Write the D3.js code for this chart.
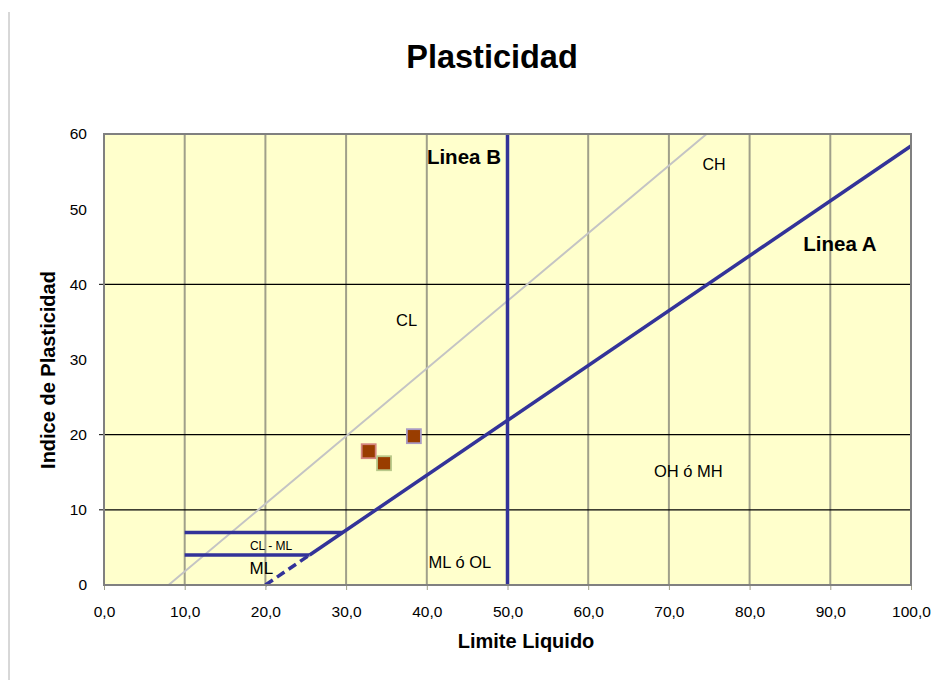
<!DOCTYPE html>
<html><head><meta charset="utf-8">
<script src="https://cdn.jsdelivr.net/npm/d3@7"></script>
<style>body{margin:0;background:#fff;} svg{display:block;font-family:"Liberation Sans",Arial,sans-serif;}</style>
</head><body>
<svg id="c" width="945" height="680"></svg>
<script>
const xTicks = [0,10,20,30,40,50,60,70,80,90,100];
const yTicks = [0,10,20,30,40,50,60];
const yGrid = [10,20,40];
const lineA_dashed = [[20,0],[25.48,4]];
const lineA_solid = [[25.48,4],[100,58.4]];
const lineU = [[8,0],[74.67,60]];
const lineB = [[50,0],[50,60]];
const clml7 = [[10,7],[29.59,7]];
const clml4 = [[10,4],[25.48,4]];
const pointsLL = [32.8, 34.7, 38.4];
const pointsPI = [17.8, 16.2, 19.8];
const pointStroke = ["#d4857f","#b9c98a","#a99ac4"];
const labels = [
  {t:"Linea B", x:44.6, y:56.0, bold:true, size:20.5},
  {t:"CH", x:75.6, y:55.2, bold:false, size:16},
  {t:"Linea A", x:91.2, y:44.5, bold:true, size:20.5},
  {t:"CL", x:37.5, y:34.4, bold:false, size:16.5},
  {t:"OH ó MH", x:72.4, y:14.4, bold:false, size:16.5},
  {t:"ML ó OL", x:44.1, y:2.3, bold:false, size:16.5},
  {t:"CL - ML", x:20.7, y:4.6, bold:false, size:12},
  {t:"ML", x:19.5, y:1.4, bold:false, size:17}
];

const svg = d3.select("#c");
const L=104, R=911, T=134, B=585;
const x = d3.scaleLinear().domain([0,100]).range([L,R]);
const y = d3.scaleLinear().domain([0,60]).range([B,T]);

// outer left border line
svg.append("line").attr("x1",9).attr("x2",9).attr("y1",12).attr("y2",680).attr("stroke","#b0b0b0").attr("stroke-width",1);

svg.append("text").attr("x",492).attr("y",68).attr("text-anchor","middle").attr("font-size",32.5).attr("font-weight","bold").text("Plasticidad");

svg.append("rect").attr("x",L).attr("y",T).attr("width",R-L).attr("height",B-T).attr("fill","#ffffcc");

// vertical grid
svg.append("g").selectAll("line").data(xTicks.slice(1,-1)).join("line")
  .attr("x1",d=>x(d)).attr("x2",d=>x(d)).attr("y1",T).attr("y2",B)
  .attr("stroke","#a0a08a").attr("stroke-width",2);
// horizontal grid
svg.append("g").selectAll("line").data(yGrid).join("line")
  .attr("x1",L).attr("x2",R).attr("y1",d=>y(d)).attr("y2",d=>y(d))
  .attr("stroke","#000").attr("stroke-width",1.2);

// axes
const xAxis = d3.axisBottom(x).tickValues(xTicks).tickSize(5).tickFormat(d=>d3.format(".1f")(d).replace(".",","));
const gx = svg.append("g").attr("transform",`translate(0,${B})`).call(xAxis);
gx.select(".domain").remove();
gx.selectAll("line").attr("stroke","#a0a08a").attr("stroke-width",1);
gx.selectAll("text").attr("font-size",15.5).attr("fill","#000").attr("dy","1.55em").attr("font-family","Liberation Sans, Arial, sans-serif");

const yAxis = d3.axisLeft(y).tickValues(yTicks).tickSize(0).tickPadding(17);
const gy = svg.append("g").attr("transform",`translate(${L},0)`).call(yAxis);
gy.select(".domain").remove();
gy.selectAll("text").attr("font-size",15.5).attr("fill","#000").attr("font-family","Liberation Sans, Arial, sans-serif");
svg.append("g").selectAll("line").data(yGrid).join("line")
  .attr("x1",L-5).attr("x2",L).attr("y1",d=>y(d)).attr("y2",d=>y(d)).attr("stroke","#000");

const line = d3.line().x(d=>x(d[0])).y(d=>y(d[1]));
svg.append("path").attr("d",line(lineU)).attr("stroke","#c4c4c4").attr("stroke-width",2).attr("fill","none");
const blue="#333399";
svg.append("path").attr("d",line(lineA_dashed)).attr("stroke",blue).attr("stroke-width",3.5).attr("stroke-dasharray","9,5").attr("fill","none");
[lineA_solid,lineB,clml7,clml4].forEach(l=>{
  svg.append("path").attr("d",line(l)).attr("stroke",blue).attr("stroke-width",3.5).attr("fill","none");
});

// plot border
svg.append("rect").attr("x",L).attr("y",T).attr("width",R-L).attr("height",B-T).attr("fill","none").attr("stroke","#808080").attr("stroke-width",2);

// points
const pts = pointsLL.map((v,i)=>({x:v,y:pointsPI[i],s:pointStroke[i]}));
svg.append("g").selectAll("rect").data(pts).join("rect")
  .attr("x",d=>x(d.x)-7).attr("y",d=>y(d.y)-7).attr("width",14).attr("height",14)
  .attr("fill","#993d00").attr("stroke",d=>d.s).attr("stroke-width",1.8);

svg.append("g").selectAll("text").data(labels).join("text")
  .attr("x",d=>x(d.x)).attr("y",d=>y(d.y)).attr("text-anchor","middle")
  .attr("font-size",d=>d.size).attr("font-weight",d=>d.bold?"bold":"normal").text(d=>d.t);

svg.append("text").attr("x",526).attr("y",648).attr("text-anchor","middle").attr("font-size",20).attr("font-weight","bold").text("Limite Liquido");
svg.append("text").attr("transform","translate(55,370) rotate(-90)").attr("text-anchor","middle").attr("font-size",20).attr("font-weight","bold").text("Indice de Plasticidad");
</script>
</body></html>
